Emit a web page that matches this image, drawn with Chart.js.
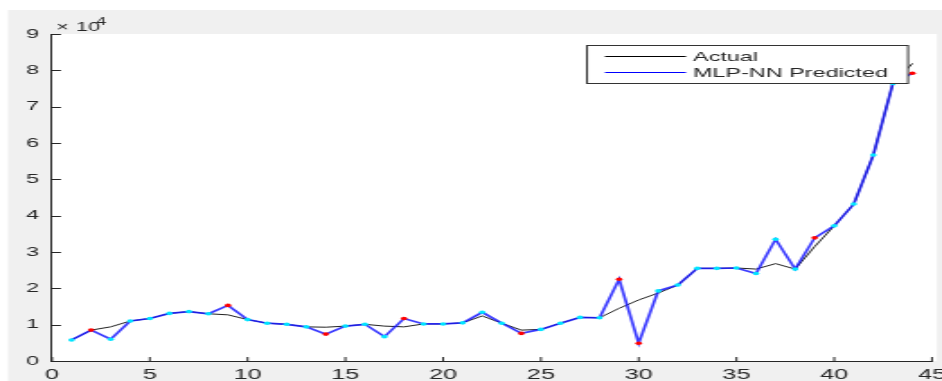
<!DOCTYPE html>
<html>
<head>
<meta charset="utf-8">
<script src="https://cdn.jsdelivr.net/npm/chart.js@4/dist/chart.umd.min.js"></script>
<style>
  html, body { margin: 0; padding: 0; background: #fff; overflow: hidden; }
  #wrap { width: 942px; height: 381px; position: relative; overflow: hidden; }
  /* the original figure is a horizontally stretched MATLAB plot */
  #chart { transform: scaleX(1.7977); transform-origin: 0 0; }
</style>
</head>
<body>
<div id="wrap"><canvas id="chart" width="524" height="381"></canvas></div>
<script>
// x positions (sample index)
const steps = [1,2,3,4,5,6,7,8,9,10,11,12,13,14,15,16,17,18,19,20,21,22,
               23,24,25,26,27,28,29,30,31,32,33,34,35,36,37,38,39,40,41,42,43,44];

const actual = [5800,8500,9400,11000,11700,13100,13600,13000,12700,11400,10400,10100,
                9400,9300,9600,10100,9600,9400,10200,10200,10500,12400,10400,8500,
                8700,10400,12000,11900,14500,16800,18700,20900,25500,25500,25600,25300,
                26800,25300,31500,37200,43200,56700,76400,81900];

const predicted = [5800,8500,6000,11000,11700,13100,13600,13000,15300,11400,10400,10100,
                   9400,7400,9600,10100,6700,11700,10200,10200,10500,13400,10400,7600,
                   8700,10400,12000,11900,22500,4900,19300,20900,25500,25500,25600,24100,
                   33500,25300,33900,37200,43200,56700,76400,79200];

// points shown with a red marker, the rest are cyan
const redPoints = [2,9,14,18,24,29,30,39,44];

const xTicks = [0,5,10,15,20,25,30,35,40,45];
const yTicks = [0,1,2,3,4,5,6,7,8,9];   // x 10^4

const S = 942 / 524;            // horizontal stretch applied by css
const X = px => px / S;         // page px -> canvas px
const fam = '"Liberation Sans", Arial, sans-serif';
const axisColor = '#262626';

const pointColors = steps.map(s => redPoints.includes(s) ? '#ff0000' : '#00e5ff');

const matlabLook = {
    id: 'matlabLook',
    beforeDraw(chart) {
        const ctx = chart.ctx;
        const a = chart.chartArea;
        ctx.save();
        ctx.fillStyle = '#fff';
        ctx.fillRect(0, 0, chart.width, chart.height);
        ctx.fillStyle = '#f0f0f0';
        ctx.fillRect(X(8), 10, chart.width, chart.height - 10);
        ctx.fillStyle = '#fff';
        ctx.fillRect(a.left, a.top, a.right - a.left + X(5), a.bottom - a.top);
        ctx.restore();
    },
    afterDraw(chart) {
        const ctx = chart.ctx;
        const a = chart.chartArea;
        const xs = chart.scales.x, ys = chart.scales.y;
        ctx.save();
        ctx.strokeStyle = axisColor;
        ctx.lineWidth = 1;
        ctx.beginPath();
        yTicks.forEach(t => {
            const y = Math.round(ys.getPixelForValue(t * 10000)) + 0.5;
            ctx.moveTo(a.left, y); ctx.lineTo(a.left + X(9), y);
        });
        xTicks.forEach(t => {
            const x = xs.getPixelForValue(t);
            ctx.moveTo(x, a.bottom); ctx.lineTo(x, a.bottom - 4);
        });
        ctx.stroke();

        // exponent label
        ctx.fillStyle = axisColor;
        ctx.textBaseline = 'alphabetic';
        ctx.font = '12px ' + fam;
        ctx.fillText('\u00d7', X(56), 31);
        ctx.font = '12px ' + fam;
        ctx.fillText('10', X(76), 31);
        ctx.font = '10px ' + fam;
        ctx.fillText('4', X(96), 25);

        // legend box
        const bx = X(587), by = 45, bw = X(908) - X(587), bh = 38;
        ctx.fillStyle = '#fff';
        ctx.fillRect(bx, by, bw, bh);
        ctx.strokeStyle = '#333';
        ctx.strokeRect(bx, by + 0.5, bw, bh);
        const rows = [['Actual', '#000000', 56], ['MLP-NN Predicted', '#0000ff', 72]];
        rows.forEach(([txt, col, y]) => {
            ctx.strokeStyle = col;
            ctx.beginPath();
            ctx.moveTo(X(605), y + 0.5); ctx.lineTo(X(686), y + 0.5);
            ctx.stroke();
            ctx.fillStyle = axisColor;
            ctx.font = '13px ' + fam;
            ctx.textBaseline = 'middle';
            ctx.fillText(txt, X(693), y + 1);
        });
        ctx.restore();
    }
};

new Chart(document.getElementById('chart'), {
    type: 'line',
    data: {
        datasets: [{
            label: 'MLP-NN Predicted',
            data: steps.map((s, i) => ({ x: s, y: predicted[i] })),
            borderColor: 'rgba(25,25,255,0.85)',
            borderWidth: 1.7,
            pointRadius: 1.8,
            pointBorderWidth: 0,
            pointBackgroundColor: pointColors,
            tension: 0,
            order: 0
        }, {
            label: 'Actual',
            data: steps.map((s, i) => ({ x: s, y: actual[i] })),
            borderColor: '#222',
            borderWidth: 1,
            pointRadius: 0,
            tension: 0,
            order: 1
        }]
    },
    options: {
        responsive: false,
        animation: false,
        devicePixelRatio: 1,
        layout: { padding: { left: 0, top: 34, right: 524 - X(932), bottom: 0 } },
        plugins: { legend: { display: false }, tooltip: { enabled: false } },
        scales: {
            x: {
                type: 'linear', min: 0, max: 45,
                afterBuildTicks(scale) { scale.ticks = xTicks.map(v => ({ value: v })); },
                afterFit(scale) { scale.height = 20; scale.paddingLeft = 0; scale.paddingRight = 0; },
                grid: { display: false, drawTicks: false },
                border: { display: true, color: axisColor, width: 1 },
                ticks: { padding: 6, color: axisColor, font: { family: fam, size: 14 }, maxRotation: 0, autoSkip: false }
            },
            y: {
                min: 0, max: 90000,
                afterBuildTicks(scale) { scale.ticks = yTicks.map(v => ({ value: v * 10000 })); },
                afterFit(scale) { scale.width = X(52); scale.paddingTop = 0; scale.paddingBottom = 0; },
                grid: { display: false, drawTicks: false },
                border: { display: true, color: axisColor, width: 1 },
                ticks: { padding: X(13), color: axisColor, font: { family: fam, size: 13 },
                         callback: v => v / 10000 }
            }
        }
    },
    plugins: [matlabLook]
});
</script>
</body>
</html>
